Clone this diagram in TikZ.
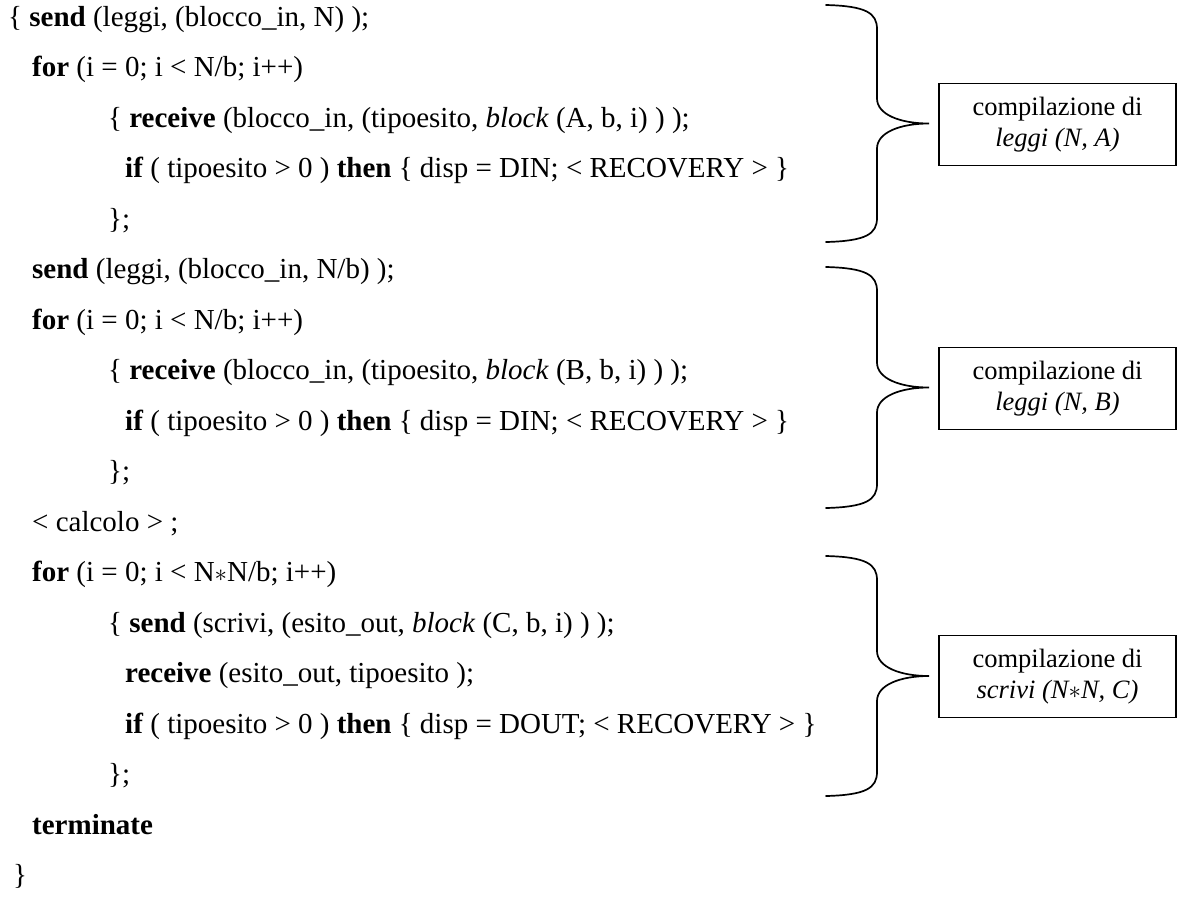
\documentclass[tikz,border=0pt]{standalone}
\usepackage{fontspec}
\setmainfont{Liberation Serif}
\newcommand\codefont{\fontsize{29}{34}\selectfont}
\newcommand\notefont{\fontsize{26.5}{31}\selectfont}
% curly brace: #1 top y, #2 bottom y, #3 name of the tip coordinate
\newcommand\curlybrace[3]{%
  \draw[bracestroke]
    (826,#1) .. controls (866,#1+1) and (877,#1+8) .. (877,#1+24)
    -- (877,{(#1+#2)/2-25})
    .. controls (877,{(#1+#2)/2-9}) and (900,{(#1+#2)/2}) .. (#3)
    .. controls (900,{(#1+#2)/2}) and (877,{(#1+#2)/2+9}) .. (877,{(#1+#2)/2+25})
    -- (877,#2-24)
    .. controls (877,#2-8) and (866,#2-1) .. (826,#2);}
\begin{document}
\begin{tikzpicture}[x=1pt,y=-1pt,
  code/.style={anchor=base west,inner sep=0pt,font=\codefont},
  notebox/.style={draw,line width=1.3pt,minimum width=237pt,minimum height=82pt,
    inner sep=0pt,align=center,font=\notefont},
  bracestroke/.style={line width=1.7pt,line cap=round}]
\useasboundingbox (0,0) rectangle (1178,906);

% program text
\node[code] (l1)  at (8,26)    {\{ \textbf{send} (leggi, (blocco\_in, N) );};
\node[code] (l2)  at (32,76.5) {\textbf{for} (i = 0; i < N/b; i++)};
\node[code] (l3)  at (108,127) {\{ \textbf{receive} (blocco\_in, (tipoesito, \textit{block} (A, b, i) ) );};
\node[code] (l4)  at (125,177.5) {\textbf{if} ( tipoesito > 0 ) \textbf{then} \{ disp = DIN; < RECOVERY > \}};
\node[code] (l5)  at (108,228) {\};};
\node[code] (l6)  at (32,278.5) {\textbf{send} (leggi, (blocco\_in, N/b) );};
\node[code] (l7)  at (32,329)  {\textbf{for} (i = 0; i < N/b; i++)};
\node[code] (l8)  at (108,379.5) {\{ \textbf{receive} (blocco\_in, (tipoesito, \textit{block} (B, b, i) ) );};
\node[code] (l9)  at (125,430) {\textbf{if} ( tipoesito > 0 ) \textbf{then} \{ disp = DIN; < RECOVERY > \}};
\node[code] (l10) at (108,480.5) {\};};
\node[code] (l11) at (32,531)  {< calcolo > ;};
\node[code] (l12) at (32,581.5) {\textbf{for} (i = 0; i < N$\ast$N/b; i++)};
\node[code] (l13) at (108,632) {\{ \textbf{send} (scrivi, (esito\_out, \textit{block} (C, b, i) ) );};
\node[code] (l14) at (125,682.5) {\textbf{receive} (esito\_out, tipoesito );};
\node[code] (l15) at (125,733) {\textbf{if} ( tipoesito > 0 ) \textbf{then} \{ disp = DOUT; < RECOVERY > \}};
\node[code] (l16) at (108,783.5) {\};};
\node[code] (l17) at (32,834)  {\textbf{terminate}};
\node[code] (l18) at (13,884.5) {\}};

% notes
\node[notebox] (boxA) at (1057.5,124.5) {compilazione di\\\textit{leggi (N, A)}};
\node[notebox] (boxB) at (1057.5,388.5) {compilazione di\\\textit{leggi (N, B)}};
\node[notebox] (boxC) at (1057.5,676.5) {compilazione di\\\textit{scrivi (N$\ast$N, C)}};

% braces pointing at the notes
\coordinate (tipA) at (929,123.5);
\coordinate (tipB) at (929,387.5);
\coordinate (tipC) at (929,676);
\curlybrace{5}{242}{tipA}
\curlybrace{267}{508}{tipB}
\curlybrace{556}{796}{tipC}
\end{tikzpicture}
\end{document}
